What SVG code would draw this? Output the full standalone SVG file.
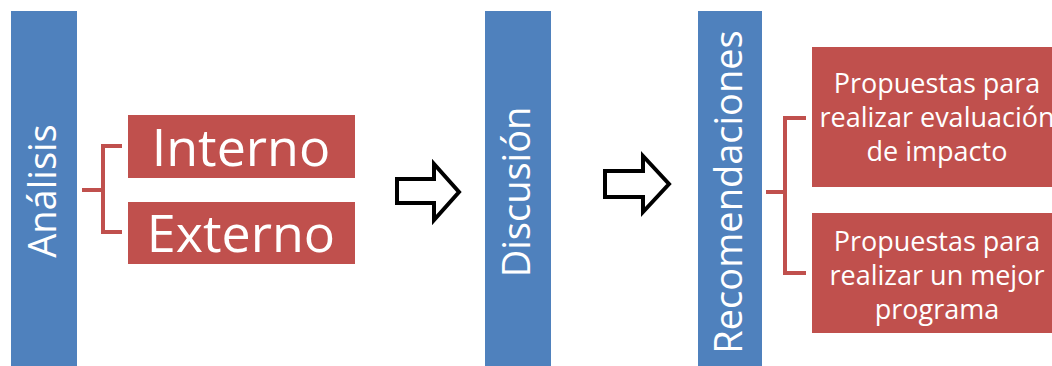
<svg xmlns="http://www.w3.org/2000/svg" width="1052" height="366" viewBox="0 0 1052 366">
  <style>
    .bar { fill: #4f81bd; }
    .box { fill: #c0504d; }
    .bar-label { fill: #ffffff; font-family: "Open Sans", "Noto Sans", sans-serif; font-size: 38px; text-anchor: middle; }
    .big-label { fill: #ffffff; font-family: "Open Sans", "Noto Sans", sans-serif; font-size: 52px; text-anchor: middle; }
    .small-label { fill: #ffffff; font-family: "Open Sans", "Noto Sans", sans-serif; font-size: 27px; text-anchor: middle; }
    .bracket { fill: none; stroke: #c0504d; stroke-width: 4; }
    .step-arrow { fill: #ffffff; stroke: #000000; stroke-width: 4; stroke-linejoin: miter; }
  </style>
  <rect width="1052" height="366" fill="#ffffff"/>

  <!-- vertical stage bars -->
  <g id="analisis">
    <rect class="bar" x="11" y="11" width="66" height="360"/>
    <text class="bar-label" transform="translate(44,191) rotate(-90)" x="0" y="12">Análisis</text>
  </g>
  <g id="discusion">
    <rect class="bar" x="485" y="11" width="66" height="360"/>
    <text class="bar-label" transform="translate(518,192) rotate(-90)" x="0" y="12">Discusión</text>
  </g>
  <g id="recomendaciones">
    <rect class="bar" x="698" y="11" width="64" height="360"/>
    <text class="bar-label" transform="translate(730,192) rotate(-90)" x="0" y="12">Recomendaciones</text>
  </g>

  <!-- sub-items -->
  <g id="interno">
    <rect class="box" x="128" y="115" width="227" height="63"/>
    <text class="big-label" x="241" y="166">Interno</text>
  </g>
  <g id="externo">
    <rect class="box" x="128" y="202" width="227" height="62"/>
    <text class="big-label" x="241" y="252">Externo</text>
  </g>
  <g id="propuesta-evaluacion">
    <rect class="box" x="812" y="47" width="252" height="140"/>
    <text class="small-label" x="937" y="93">Propuestas para</text>
    <text class="small-label" x="937" y="127">realizar evaluación</text>
    <text class="small-label" x="937" y="161">de impacto</text>
  </g>
  <g id="propuesta-programa">
    <rect class="box" x="812" y="213" width="252" height="120"/>
    <text class="small-label" x="937" y="251">Propuestas para</text>
    <text class="small-label" x="937" y="285">realizar un mejor</text>
    <text class="small-label" x="937" y="319">programa</text>
  </g>

  <!-- connectors: brackets and step arrows -->
  <g id="connectors">
    <path class="bracket" d="M82,190 H103 M122,146 H103 V232 H122"/>
    <path class="bracket" d="M766,192 H785 M806,118 H785 V273 H806"/>
    <path class="step-arrow" d="M397,179 H434 V164 L459,192 L434,220 V203 H397 Z"/>
    <path class="step-arrow" d="M605,171 H643 V156 L669,184 L643,212 V197 H605 Z"/>
  </g>
</svg>
